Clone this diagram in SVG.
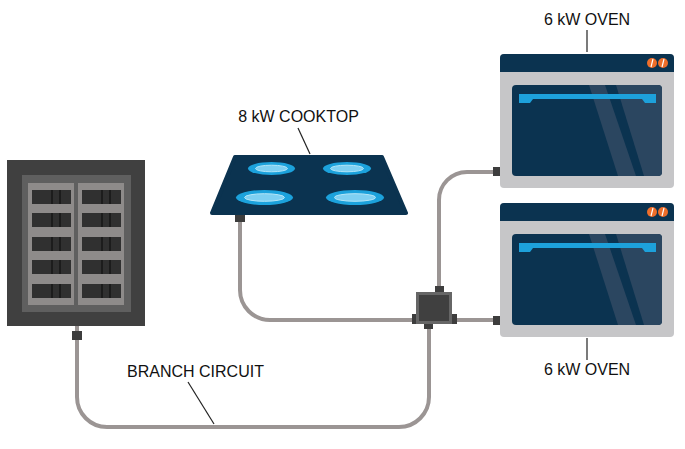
<svg xmlns="http://www.w3.org/2000/svg" width="685" height="449" viewBox="0 0 685 449">
<defs>
<style>
.cable{fill:none;stroke:#9b9594;stroke-width:4}
.conn{fill:#3d3d3d}
.lbl{font-family:"Liberation Sans",Arial,sans-serif;font-size:16px;fill:#111;text-anchor:middle}
.lead{stroke:#222;stroke-width:1.2;fill:none}
.brk{fill:#303030}
.brkl{fill:#1c1c1c}
.burner{fill:#1ca2dc}
.burnin{fill:#7fd0f2;stroke:#b5e6f8;stroke-width:1}
.navy{fill:#0b3350}
</style>
<g id="breaker">
<rect class="brk" x="0" y="0" width="39" height="14"/>
<rect class="brkl" x="19" y="0" width="2" height="14"/>
<rect class="brkl" x="27" y="0" width="2" height="14"/>
</g>
<g id="oven">
<rect x="500" y="54" width="174" height="134" rx="4" fill="#c6c6c8"/>
<path class="navy" d="M500,72 V58 Q500,54 504,54 H670 Q674,54 674,58 V72 Z"/>
<circle cx="652" cy="63" r="5" fill="#ee6e2a"/>
<circle cx="663" cy="63" r="5" fill="#ee6e2a"/>
<line x1="651" y1="67" x2="653" y2="59" stroke="#fff" stroke-width="1.2"/>
<line x1="662" y1="67" x2="664" y2="59" stroke="#fff" stroke-width="1.2"/>
<rect class="navy" x="512" y="85" width="150" height="91" rx="4"/>
<polygon points="589,85 605,85 636,176 618,176" fill="#2b4660"/>
<path d="M616,85 H658 Q662,85 662,89 V172 Q662,176 658,176 H644 Z" fill="#2b4660"/>
<polygon points="519,94 656,94 656,103 645,103 642,99 533,99 530,103 519,103" fill="#1da1db"/>
</g>
</defs>

<g id="connectors">
<path class="cable" d="M77,326 V397 A30,30 0 0 0 107,427 H399 A30,30 0 0 0 429,397 V329"/>
<path class="cable" d="M240,222 V290 A30,30 0 0 0 270,320 H412"/>
<path class="cable" d="M439,286 V200 A28,28 0 0 1 467,172 H493"/>
<path class="cable" d="M457,320 H493"/>
<rect class="conn" x="72" y="331" width="10" height="9"/>
<rect class="conn" x="235" y="215" width="10" height="7"/>
<rect class="conn" x="493" y="167" width="7" height="9"/>
<rect class="conn" x="493" y="316" width="7" height="9"/>
<text class="lbl" x="195.5" y="377">BRANCH CIRCUIT</text>
<line class="lead" x1="188" y1="382" x2="214" y2="424"/>
</g>

<g id="panel">
<rect x="7" y="160" width="138" height="166" fill="#404040"/>
<rect x="22" y="175" width="109" height="137" fill="#5f5f5f"/>
<rect x="28" y="183" width="46" height="122" fill="#8e8b8a"/>
<rect x="78" y="183" width="46" height="122" fill="#8e8b8a"/>
<use href="#breaker" x="32" y="190"/>
<use href="#breaker" x="32" y="213"/>
<use href="#breaker" x="32" y="237"/>
<use href="#breaker" x="32" y="260"/>
<use href="#breaker" x="32" y="284"/>
<use href="#breaker" x="82" y="190"/>
<use href="#breaker" x="82" y="213"/>
<use href="#breaker" x="82" y="237"/>
<use href="#breaker" x="82" y="260"/>
<use href="#breaker" x="82" y="284"/>
</g>

<g id="cooktop">
<polygon points="235,157 382,157 406,213 212,213" fill="#0b3350" stroke="#0b3350" stroke-width="4" stroke-linejoin="round"/>
<ellipse class="burner" cx="271.5" cy="168.5" rx="23.5" ry="6.5"/>
<ellipse class="burnin" cx="271.5" cy="168.5" rx="16" ry="3.3"/>
<ellipse class="burner" cx="347" cy="168.5" rx="24" ry="6.5"/>
<ellipse class="burnin" cx="347" cy="168.5" rx="16.5" ry="3.3"/>
<ellipse class="burner" cx="264.5" cy="197.5" rx="28.5" ry="7.5"/>
<ellipse class="burnin" cx="264.5" cy="197.5" rx="20" ry="3.8"/>
<ellipse class="burner" cx="355" cy="197.5" rx="29" ry="7.5"/>
<ellipse class="burnin" cx="355" cy="197.5" rx="20.5" ry="3.8"/>
<text class="lbl" x="298.5" y="122">8 kW COOKTOP</text>
<line class="lead" x1="298" y1="128" x2="310" y2="154"/>
</g>

<g id="junction">
<rect class="conn" x="435" y="286" width="9" height="7"/>
<rect class="conn" x="412" y="314" width="5" height="10"/>
<rect class="conn" x="451" y="314" width="6" height="10"/>
<rect class="conn" x="424" y="323" width="9" height="6"/>
<rect x="416" y="292" width="36" height="32" fill="#666666"/>
<rect x="419" y="295" width="30" height="26" fill="#404040"/>
</g>

<g id="oven-top">
<use href="#oven"/>
<text class="lbl" x="587" y="25">6 kW OVEN</text>
<line class="lead" x1="587" y1="30" x2="587" y2="52"/>
</g>

<g id="oven-bottom">
<use href="#oven" y="149"/>
<text class="lbl" x="587" y="375">6 kW OVEN</text>
<line class="lead" x1="587" y1="338" x2="587" y2="360"/>
</g>
</svg>
